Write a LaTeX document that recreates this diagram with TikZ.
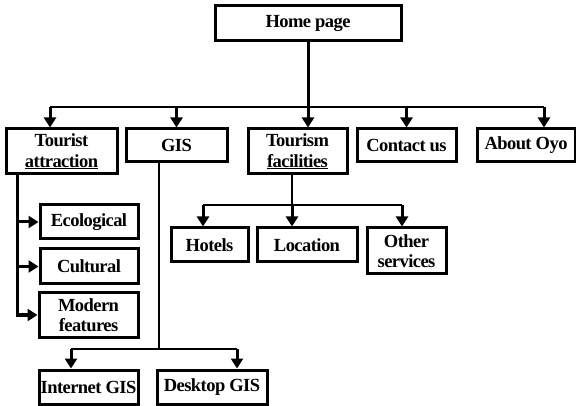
\documentclass[tikz,border=0pt]{standalone}
\usepackage{fontspec}
\setmainfont{Liberation Serif}[LetterSpace=-3]
\usetikzlibrary{arrows.meta,positioning}

\begin{document}
\begin{tikzpicture}[x=1pt,y=-1pt,
  font=\fontsize{18.5}{20.5}\selectfont\bfseries,
  >={Triangle[length=10pt,width=12pt]},
  box/.style={draw,line width=3pt,align=center,inner sep=1pt},
  ln/.style={line width=2.6pt},
  arr/.style={->,line width=3pt}]
  \useasboundingbox (0,0) rectangle (576,406);

  % top level
  \node[box,minimum width=186,minimum height=35] (home) at (308,23.5) {Home page};
  \node[box,minimum width=111,minimum height=45] (tourist) at (61.5,151.5)
    {Tourist\\\underline{attraction}};
  \node[box,minimum width=101,minimum height=33] (gis) at (176.5,145.5) {GIS};
  \node[box,minimum width=99,minimum height=45] (tourism) at (297.5,151.5)
    {Tourism\\\underline{facilities}};
  \node[box,minimum width=99,minimum height=33] (contact) at (406.5,145.5) {Contact us};
  \node[box,minimum width=98,minimum height=33] (about) at (526,145.5) {About Oyo};

  \coordinate (busL) at (50,107);
  \coordinate (busR) at (544,107);
  \draw[ln] (busL) -- (busR);
  \draw[arr] (home.south) -- (home.south |- tourism.north);
  \draw[arr] (busL) -- (busL |- tourist.north);
  \draw[arr] (gis.north |- busL) -- (gis.north);
  \draw[arr] (contact.north |- busL) -- (contact.north);
  \draw[arr] (busR) -- (busR |- about.north);

  % tourist attraction
  \node[box,minimum width=98,minimum height=34] (eco) at (89,222) {Ecological};
  \node[box,minimum width=98,minimum height=35] (cultural) at (89,266.5) {Cultural};
  \node[box,minimum width=99,minimum height=44] (modern) at (88.5,315) {Modern\\features};
  \coordinate (tstem) at (17,174);
  \draw[arr] (tstem) |- (modern.west);
  \draw[arr] (tstem |- eco.west) -- (eco.west);
  \draw[arr] (tstem |- cultural.west) -- (cultural.west);

  % tourism facilities
  \node[box,minimum width=77,minimum height=34] (hotels) at (209.5,245) {Hotels};
  \node[box,minimum width=100,minimum height=34] (location) at (307,245) {Location};
  \node[box,minimum width=79,minimum height=46] (other) at (406.5,251) {Other\\services};
  \coordinate (fsplit) at (292,205);
  \coordinate (fL) at (203,205);
  \coordinate (fR) at (402,205);
  \draw[ln] (fsplit |- tourism.south) -- (fsplit);
  \draw[ln] (fL) -- (fR);
  \draw[arr] (fL) -- (fL |- hotels.north);
  \draw[arr] (fsplit) -- (fsplit |- location.north);
  \draw[arr] (fR) -- (fR |- other.north);

  % gis
  \node[box,minimum width=99,minimum height=34] (internet) at (88.5,387) {Internet GIS};
  \node[box,minimum width=110,minimum height=34] (desktop) at (212,387) {Desktop GIS};
  \coordinate (gsplit) at (159,349);
  \coordinate (gL) at (71,349);
  \coordinate (gR) at (237,349);
  \draw[ln] (gsplit |- gis.south) -- (gsplit);
  \draw[ln] (gL) -- (gR);
  \draw[arr] (gL) -- (gL |- internet.north);
  \draw[arr] (gR) -- (gR |- desktop.north);
\end{tikzpicture}
\end{document}
